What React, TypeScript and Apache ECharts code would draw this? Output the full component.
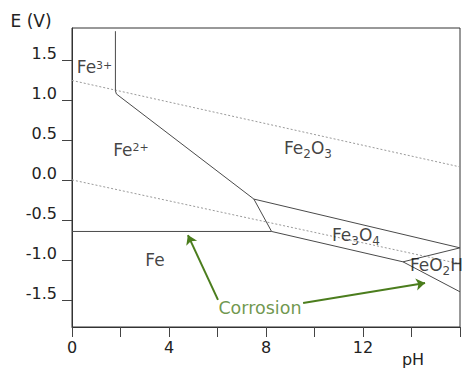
import React, { useEffect, useRef } from 'react';
import * as echarts from 'echarts';

// Axis ticks / labels
const phTicks = [0, 2, 4, 6, 8, 10, 12, 14, 16];
const phLabels = [0, 4, 8, 12];
const eTicks = [-1.5, -1.0, -0.5, 0.0, 0.5, 1.0, 1.5];

// Water stability lines (dotted)
const waterUpper = [[0, 1.244], [16, 0.1625]];
const waterLower = [[0, 0.0], [16, -1.05]];

// Phase boundaries (solid)
const fe3Fe2Boundary = [[1.79, 1.86], [1.79, 1.116], [1.83, 1.075], [1.98, 1.04], [7.5, -0.24], [8.23, -0.645]];
const feBoundary = [[0, -0.645], [8.23, -0.645]];
const fe2o3Fe3o4 = [[7.5, -0.24], [16, -0.85]];
const fe3o4Fe = [[8.23, -0.645], [13.65, -1.025], [16, -1.4]];
const feo2hUpper = [[13.65, -1.025], [16, -0.85]];

// Species labels
const speciesNames = ['Fe3+', 'Fe2+', 'Fe2O3', 'Fe3O4', 'FeO2H', 'Fe'];
const speciesPH = [0.93, 2.43, 9.73, 11.71, 15.03, 3.42];
const speciesE = [1.41, 0.375, 0.4, -0.69, -1.06, -1.0];

// Corrosion annotation
const corrosionText = 'Corrosion';
const corrosionPos = [7.75, -1.6];
const corrosionArrows = [
  [[6.02, -1.5], [4.78, -0.69]],
  [[9.53, -1.54], [14.56, -1.29]],
];

const FONT = 'DejaVu Sans';
const GREEN = '#4b7d1d';
const LINE = '#4a4a4a';
const DOT = '#9a9a9a';

function toRich(name: string): string {
  const m = name.match(/^(.*?)(\d\+)$/);
  if (m) return `{m|${m[1]}}{sup|${m[2]}}`;
  return name
    .split(/(\d)/)
    .filter((s) => s.length > 0)
    .map((s) => (/^\d$/.test(s) ? `{sub|${s}}` : `{m|${s}}`))
    .join('');
}

export default function App() {
  const ref = useRef<HTMLDivElement>(null);
  useEffect(() => {
    document.body.style.margin = '0';
    if (!ref.current) return;
    const chart = echarts.init(ref.current, undefined, { renderer: 'svg' });

    const solid = (data: number[][]) => ({
      type: 'line',
      data,
      showSymbol: false,
      symbol: 'none',
      silent: true,
      lineStyle: { color: LINE, width: 1 },
      z: 3,
    });
    const dotted = (data: number[][]) => ({
      type: 'line',
      data,
      showSymbol: false,
      symbol: 'none',
      silent: true,
      lineStyle: { color: DOT, width: 1, type: [2, 2] },
      z: 2,
    });

    chart.setOption({
      animation: false,
      grid: { left: 72, right: 4, top: 28, bottom: 41, show: true, borderColor: '#333', borderWidth: 1, outerBoundsMode: 'none' },
      xAxis: {
        type: 'value',
        min: 0,
        max: 16,
        interval: 2,
        splitLine: { show: false },
        axisLine: { onZero: false, lineStyle: { color: '#333', width: 1 } },
        axisTick: { show: true, length: 10, lineStyle: { color: '#444' }, customValues: phTicks },
        axisLabel: { customValues: phLabels, fontFamily: FONT, fontSize: 16, color: '#222', margin: 12 },
      },
      yAxis: {
        type: 'value',
        min: -1.84,
        max: 1.9,
        splitLine: { show: false },
        axisLine: { show: true, onZero: false, lineStyle: { color: '#333', width: 1 } },
        axisTick: { show: true, length: 10, lineStyle: { color: '#444' }, customValues: eTicks },
        axisLabel: {
          customValues: eTicks,
          fontFamily: FONT,
          fontSize: 16,
          color: '#222',
          margin: 15,
          verticalAlign: 'bottom',
          lineHeight: 13,
          formatter: (v: number) => v.toFixed(1),
        },
      },
      graphic: [
        { type: 'text', x: 31, y: 21, style: { text: 'E (V)', font: `17px ${FONT}`, fill: '#222', align: 'center', verticalAlign: 'middle' } },
        { type: 'text', x: 413, y: 359, style: { text: 'pH', font: `16px ${FONT}`, fill: '#222', align: 'center', verticalAlign: 'middle' } },
      ],
      series: [
        dotted(waterUpper),
        dotted(waterLower),
        solid(fe3Fe2Boundary),
        solid(feBoundary),
        solid(fe2o3Fe3o4),
        solid(fe3o4Fe),
        solid(feo2hUpper),
        {
          type: 'lines',
          coordinateSystem: 'cartesian2d',
          silent: true,
          symbol: ['none', 'arrow'],
          symbolSize: 9,
          lineStyle: { color: GREEN, width: 2, opacity: 1, curveness: 0 },
          data: corrosionArrows.map((c) => ({ coords: c })),
          z: 5,
        },
        {
          type: 'scatter',
          silent: true,
          symbolSize: 0,
          data: speciesNames.map((n, i) => ({ value: [speciesPH[i], speciesE[i]], name: n })),
          label: {
            show: true,
            position: 'inside',
            formatter: (p: any) => toRich(p.name),
            rich: {
              m: { fontFamily: FONT, fontSize: 17, lineHeight: 20, color: '#111' },
              sup: { fontFamily: FONT, fontSize: 11, lineHeight: 16, height: 16, verticalAlign: 'top', color: '#111' },
              sub: { fontFamily: FONT, fontSize: 12, lineHeight: 8, height: 8, verticalAlign: 'bottom', color: '#111' },
            },
          },
          z: 6,
        },
        {
          type: 'scatter',
          silent: true,
          symbolSize: 0,
          data: [{ value: corrosionPos, name: corrosionText }],
          label: {
            show: true,
            position: 'inside',
            formatter: (p: any) => p.name,
            fontFamily: FONT,
            fontSize: 17.5,
            color: GREEN,
          },
          z: 6,
        },
      ],
    });
    return () => chart.dispose();
  }, []);
  return <div ref={ref} style={{ width: 464, height: 368 }} />;
}
